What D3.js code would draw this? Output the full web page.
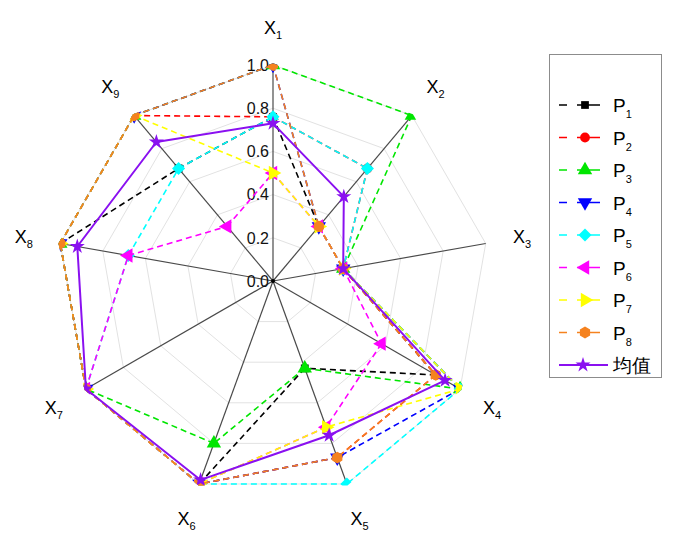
<!DOCTYPE html>
<html>
<head>
<meta charset="utf-8">
<script src="https://cdn.jsdelivr.net/npm/d3@7"></script>
<style>
body { margin: 0; background: #fff; }
svg text { font-family: "Liberation Sans", Arial, sans-serif; }
</style>
</head>
<body>
<svg id="chart" width="700" height="550"></svg>
<script>
var axisSubs = ["1", "2", "3", "4", "5", "6", "7", "8", "9"];
var tickValues = [0, 0.2, 0.4, 0.6, 0.8, 1.0];
var tickLabels = ["0.0", "0.2", "0.4", "0.6", "0.8", "1.0"];
var seriesNames = ["P1", "P2", "P3", "P4", "P5", "P6", "P7", "P8", "均值"];

var p1 = [0.76, 0.33, 0.33, 0.87, 0.43, 1.0, 1.0, 1.0, 0.68];
var p2 = [0.76, 0.68, 0.33, 0.87, 0.87, 1.0, 1.0, 1.0, 1.0];
var p3 = [1.0, 1.0, 0.33, 1.0, 0.43, 0.8, 1.0, 1.0, 1.0];
var p4 = [1.0, 0.33, 0.33, 1.0, 0.87, 1.0, 1.0, 1.0, 1.0];
var p5 = [0.76, 0.68, 0.33, 1.0, 1.0, 1.0, 1.0, 0.68, 0.68];
var p6 = [0.5, 0.33, 0.33, 0.58, 0.72, 1.0, 1.0, 0.68, 0.33];
var p7 = [0.5, 0.33, 0.33, 1.0, 0.72, 1.0, 1.0, 1.0, 1.0];
var p8 = [1.0, 0.33, 0.33, 0.87, 0.87, 1.0, 1.0, 1.0, 1.0];
var avg = [0.73, 0.51, 0.33, 0.92, 0.76, 0.98, 1.0, 0.92, 0.84];

var values = [p1, p2, p3, p4, p5, p6, p7, p8, avg];
var colors = ["#000000", "#ff0000", "#00e600", "#0000ff", "#00ffff", "#ff00ff", "#ffff00", "#f5821f", "#8a10f0"];

var hexagon = {
    draw: function(context, size) {
        var r = Math.sqrt(size / (1.5 * Math.sqrt(3)));
        for (var i = 0; i < 6; i++) {
            var a = Math.PI / 6 + i * Math.PI / 3;
            if (i === 0) context.moveTo(r * Math.cos(a), r * Math.sin(a));
            else context.lineTo(r * Math.cos(a), r * Math.sin(a));
        }
        context.closePath();
    }
};

// symbol type, size, rotation
var markers = [
    [d3.symbolSquare, 60, 0],
    [d3.symbolCircle, 75, 0],
    [d3.symbolTriangle, 90, 0],
    [d3.symbolTriangle, 90, 180],
    [d3.symbolSquare, 85, 45],
    [d3.symbolTriangle, 90, -90],
    [d3.symbolTriangle, 90, 90],
    [hexagon, 90, 0],
    [d3.symbolStar, 70, 0]
];

var cx = 273, cy = 281, R = 216;
var n = axisSubs.length;
var svg = d3.select("#chart");

var angle = d3.scaleLinear().domain([0, n]).range([0, 2 * Math.PI]);
var radius = d3.scaleLinear().domain([0, 1]).range([0, R]);

function pt(i, v) {
    var a = angle(i);
    return [cx + radius(v) * Math.sin(a), cy - radius(v) * Math.cos(a)];
}

var g = svg.append("g");

// clip the data to the outer ring, like the original plot does
var clipRing = d3.range(n).map(function(i) { return pt(i, 1.008); });
svg.append("defs").append("clipPath").attr("id", "webClip")
    .append("path").attr("d", d3.line().curve(d3.curveLinearClosed)(clipRing));

// rings
tickValues.slice(1).forEach(function(t) {
    var ring = d3.range(n).map(function(i) { return pt(i, t); });
    g.append("path").attr("d", d3.line().curve(d3.curveLinearClosed)(ring))
        .attr("fill", "none").attr("stroke", "#e2e2e2").attr("stroke-width", 1);
});

// axes
d3.range(n).forEach(function(i) {
    var e = pt(i, 1);
    g.append("line").attr("x1", cx).attr("y1", cy).attr("x2", e[0]).attr("y2", e[1])
        .attr("stroke", "#4a4a4a").attr("stroke-width", 1.2);
});

g.append("circle").attr("cx", cx).attr("cy", cy).attr("r", 2).attr("fill", "#000");

// tick labels
tickValues.forEach(function(t, i) {
    g.append("text").attr("x", cx - 4).attr("y", cy - radius(t)).attr("dy", "0.36em")
        .attr("text-anchor", "end").attr("font-size", 16).attr("fill", "#111").text(tickLabels[i]);
});

// axis labels
axisSubs.forEach(function(s, i) {
    var a = angle(i);
    var t = g.append("text").attr("x", cx + 253 * Math.sin(a)).attr("y", cy - 253 * Math.cos(a) + 6)
        .attr("text-anchor", "middle").attr("font-size", 18).attr("fill", "#000");
    t.append("tspan").text("X");
    t.append("tspan").attr("font-size", 11).attr("dy", 5).text(s);
});

function markerPath(k) {
    return d3.symbol().type(markers[k][0]).size(markers[k][1])();
}

// series: each edge drawn on its own so the dash pattern restarts at every vertex
var web = g.append("g").attr("clip-path", "url(#webClip)");
values.forEach(function(vals, k) {
    var pts = vals.map(function(v, i) { return pt(i, v); });
    pts.forEach(function(p, i) {
        var q = pts[(i + 1) % n];
        web.append("line").attr("x1", p[0]).attr("y1", p[1]).attr("x2", q[0]).attr("y2", q[1])
            .attr("stroke", colors[k])
            .attr("stroke-width", k === 8 ? 2 : 1.6)
            .attr("stroke-linecap", k === 8 ? "round" : "butt")
            .attr("stroke-dasharray", k === 8 ? null : "6,4");
    });
    pts.forEach(function(p) {
        web.append("path").attr("d", markerPath(k))
            .attr("transform", "translate(" + p[0] + "," + p[1] + ") rotate(" + markers[k][2] + ")")
            .attr("fill", colors[k]);
    });
});

// legend
var legend = svg.append("g");
legend.append("rect").attr("x", 549.5).attr("y", 54.5).attr("width", 112).attr("height", 323)
    .attr("fill", "#fff").attr("stroke", "#8c8c8c").attr("stroke-width", 1);

seriesNames.forEach(function(name, k) {
    var y = 105 + k * 32.5;
    var item = legend.append("g").attr("transform", "translate(0," + y + ")");
    if (k < 8) {
        item.append("line").attr("x1", 559).attr("x2", 600).attr("y1", 0).attr("y2", 0)
            .attr("stroke", colors[k]).attr("stroke-width", 1.6).attr("stroke-dasharray", "8,10,23");
        item.append("path").attr("d", markerPath(k))
            .attr("transform", "translate(585,0) rotate(" + markers[k][2] + ")").attr("fill", colors[k]);
        var t = item.append("text").attr("x", 613).attr("y", 7).attr("font-size", 19).attr("fill", "#000");
        t.append("tspan").text(name.charAt(0));
        t.append("tspan").attr("font-size", 11).attr("dy", 6).text(name.slice(1));
    } else {
        item.append("line").attr("x1", 559).attr("x2", 608).attr("y1", 0).attr("y2", 0)
            .attr("stroke", colors[k]).attr("stroke-width", 2);
        item.append("path").attr("d", markerPath(k))
            .attr("transform", "translate(583,0)").attr("fill", colors[k]);
        item.append("text").attr("x", 613).attr("y", 7).attr("font-size", 19)
            .attr("font-family", "'Noto Sans CJK SC', sans-serif").attr("fill", "#000").text(name);
    }
});
</script>
</body>
</html>
